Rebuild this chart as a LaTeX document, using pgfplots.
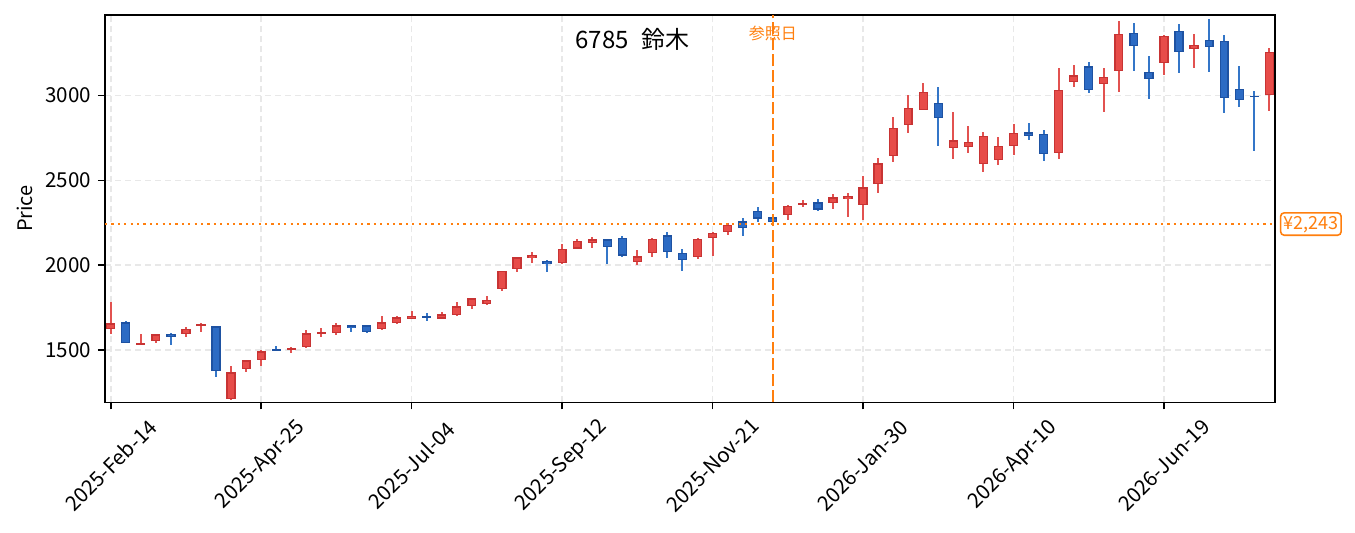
\documentclass[border=0pt]{standalone}
\usepackage{fontspec}
\setmainfont{Noto Sans CJK JP}
\usepackage{pgfplots}
\pgfplotsset{compat=1.18}
\usepackage{pgfplotstable}

\definecolor{rfill}{RGB}{231,76,73}
\definecolor{rborder}{RGB}{200,52,52}
\definecolor{rwick}{RGB}{226,82,80}
\definecolor{bfill}{RGB}{44,107,196}
\definecolor{bborder}{RGB}{30,82,162}
\definecolor{bwick}{RGB}{52,118,200}
\definecolor{tab orange}{RGB}{255,127,14}
\definecolor{gridgray}{RGB}{232,232,232}

% up candles (close >= open): week, open, high, low, close
\pgfplotstableread{
x o h l c
0 1623 1785 1593 1658
2 1534 1595 1534 1540
3 1554 1595 1540 1593
5 1593 1636 1579 1623
6 1642 1660 1609 1654
8 1210 1406 1205 1369
9 1387 1442 1373 1440
10 1440 1501 1406 1493
12 1502 1520 1483 1512
13 1517 1619 1510 1599
14 1595 1629 1576 1607
15 1599 1660 1591 1646
18 1623 1701 1620 1664
19 1658 1701 1656 1693
20 1685 1731 1682 1701
22 1685 1725 1683 1711
23 1705 1784 1703 1758
24 1758 1807 1744 1805
25 1770 1819 1768 1794
26 1858 1967 1850 1965
27 1976 2049 1962 2047
28 2041 2078 2012 2061
30 2012 2126 2010 2098
31 2098 2155 2094 2142
32 2133 2167 2104 2153
35 2018 2090 2004 2053
36 2073 2159 2051 2157
39 2046 2159 2039 2157
40 2159 2194 2055 2192
41 2195 2249 2180 2239
45 2295 2353 2267 2351
46 2354 2383 2346 2367
48 2366 2420 2332 2401
49 2389 2426 2287 2407
50 2354 2527 2267 2460
51 2478 2633 2428 2601
52 2644 2873 2611 2808
53 2825 3004 2778 2929
54 2916 3075 2914 3024
56 2690 2904 2625 2737
57 2696 2821 2664 2729
58 2597 2786 2552 2764
59 2621 2755 2593 2705
60 2703 2833 2652 2782
63 2662 3165 2629 3035
64 3080 3181 3051 3119
66 3069 3163 2904 3112
67 3144 3440 3022 3366
70 3193 3356 3122 3354
72 3275 3364 3163 3301
77 3004 3279 2910 3259
}\up

% down candles (close < open)
\pgfplotstableread{
x o h l c
1 1664 1672 1540 1540
4 1595 1601 1530 1577
7 1640 1642 1343 1377
11 1505 1524 1493 1493
16 1646 1648 1609 1630
17 1646 1648 1603 1605
21 1701 1721 1672 1694
29 2024 2030 1962 2006
33 2153 2155 2009 2108
34 2163 2173 2051 2057
37 2177 2196 2045 2077
38 2071 2096 1968 2030
42 2259 2277 2173 2218
43 2320 2344 2257 2275
44 2283 2290 2232 2254
47 2371 2391 2320 2328
55 2959 3050 2705 2867
61 2784 2839 2741 2762
62 2776 2796 2617 2653
65 3173 3197 3018 3032
68 3371 3429 3146 3291
69 3142 3234 2982 3098
71 3383 3423 3134 3256
73 3330 3452 3140 3287
74 3324 3356 2900 2986
75 3041 3175 2933 2975
76 3000 3026 2676 2991
}\down

\pgfplotsset{
  wick/.style={draw=none, mark=none, forget plot,
    error bars/.cd, y dir=both, y explicit, error mark=none,
    error bar style={line width=1pt, draw=#1}},
  body/.style 2 args={draw=none, mark=none, forget plot,
    error bars/.cd, y dir=both, y explicit, error mark=none,
    error bar style={line width=#2, line cap=butt, draw=#1}},
}

\begin{document}
\begin{tikzpicture}
\useasboundingbox (0,0) rectangle (677.5pt,266pt);
\begin{axis}[
  at={(52.5pt,64.85pt)}, anchor=south west,
  scale only axis, width=585pt, height=193.7pt,
  xmin=-0.38, xmax=77.38, ymin=1192, ymax=3476,
  xtick={0,10,20,30,40,50,60,70},
  xticklabels={2025-Feb-14,2025-Apr-25,2025-Jul-04,2025-Sep-12,2025-Nov-21,2026-Jan-30,2026-Apr-10,2026-Jun-19},
  ytick={1500,2000,2500,3000},
  minor tick num=0,
  tick pos=left,
  tick align=outside,
  major tick length=3.5pt,
  every tick/.style={black, line width=0.8pt},
  axis line style={black, line width=0.8pt},
  grid=major,
  grid style={gridgray, line width=0.8pt, dash pattern=on 3pt off 2pt},
  tick label style={font=\fontsize{10.3}{12}\selectfont},
  /pgf/number format/assume math mode=true,
  /pgf/number format/1000 sep={},
  yticklabel style={xshift=0pt},
  xticklabel style={anchor=center, yshift=-28pt, rotate=45},
  ylabel={Price},
  ylabel style={font=\fontsize{10}{12}\selectfont, at={(axis description cs:-0.0683,0.5)}, anchor=center},
]
% wicks
\addplot[wick=rwick] table[x=x, y expr={(\thisrow{h}+\thisrow{l})/2}, y error expr={(\thisrow{h}-\thisrow{l})/2}] {\up};
\addplot[wick=bwick] table[x=x, y expr={(\thisrow{h}+\thisrow{l})/2}, y error expr={(\thisrow{h}-\thisrow{l})/2}] {\down};
% bodies: border then fill
\addplot[body={rborder}{4.6pt}] table[x=x, y expr={(\thisrow{o}+\thisrow{c})/2}, y error expr={max(abs(\thisrow{c}-\thisrow{o})/2,3.5)}] {\up};
\addplot[body={rfill}{3.3pt}] table[x=x, y expr={(\thisrow{o}+\thisrow{c})/2}, y error expr={max(abs(\thisrow{c}-\thisrow{o})/2-7.5,0)}] {\up};
\addplot[body={bborder}{4.6pt}] table[x=x, y expr={(\thisrow{o}+\thisrow{c})/2}, y error expr={max(abs(\thisrow{c}-\thisrow{o})/2,3.5)}] {\down};
\addplot[body={bfill}{3.3pt}] table[x=x, y expr={(\thisrow{o}+\thisrow{c})/2}, y error expr={max(abs(\thisrow{c}-\thisrow{o})/2-7.5,0)}] {\down};
% reference lines
\addplot[tab orange, line width=0.9pt, dash pattern=on 1.1pt off 2.1pt, forget plot] coordinates {(-0.38,2243) (77.38,2243)};
\addplot[tab orange, line width=1.2pt, dash pattern=on 6pt off 2pt, forget plot] coordinates {(44,1192) (44,3476)};
\node[font=\fontsize{12}{14}\selectfont] at (rel axis cs:0.451,0.937) {6785\hspace{0.55em}鈴木};
\node[font=\fontsize{8}{9}\selectfont, text=tab orange] at (axis cs:44,3364) {参照日};
\coordinate (pricelab) at (axis cs:77.38,2243);
\end{axis}
\node[anchor=west, xshift=2.4pt, draw=tab orange, line width=0.8pt, fill=white, rounded corners=1.8pt,
  text=tab orange, font=\fontsize{9}{10}\selectfont, inner xsep=1.4pt, inner ysep=1.6pt,
  text height=6.8pt, text depth=1.2pt] at (pricelab) {¥2,243};
\end{tikzpicture}
\end{document}
